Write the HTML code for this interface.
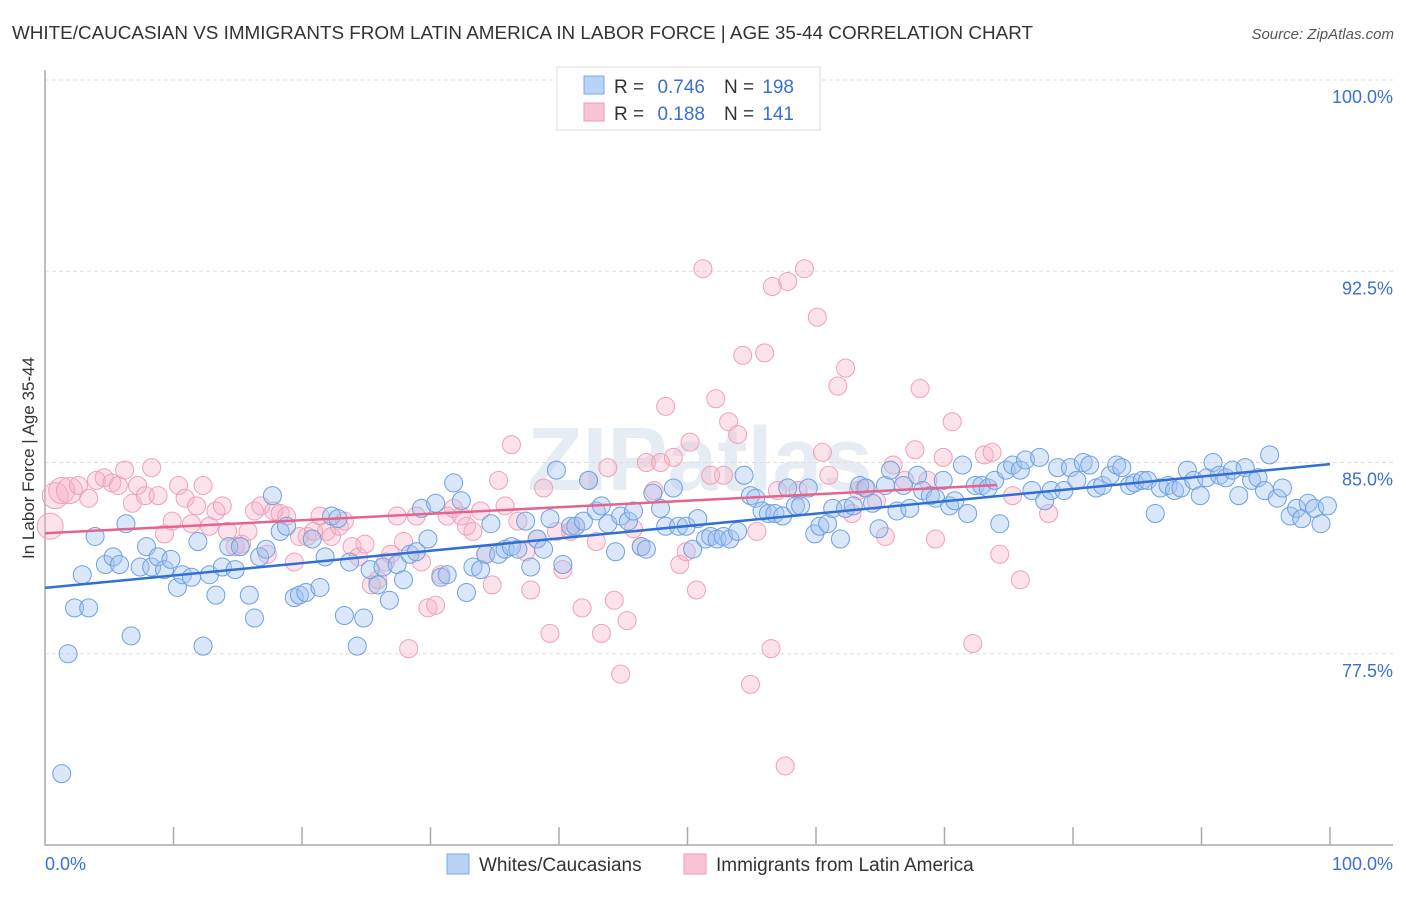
<!DOCTYPE html>
<html><head><meta charset="utf-8"><style>
body{margin:0;background:#fff;font-family:"Liberation Sans",sans-serif;}
svg text{font-family:"Liberation Sans",sans-serif;}
</style></head><body>
<svg id="chart" width="1406" height="892" viewBox="0 0 1406 892">
<text x="12" y="39" font-size="18" fill="#333" textLength="1021" lengthAdjust="spacingAndGlyphs">WHITE/CAUCASIAN VS IMMIGRANTS FROM LATIN AMERICA IN LABOR FORCE | AGE 35-44 CORRELATION CHART</text>
<text x="1394" y="39" font-size="15" fill="#555" font-style="italic" text-anchor="end">Source: ZipAtlas.com</text>
<text x="700" y="490" font-size="90" fill="#e6ecf3" text-anchor="middle" font-weight="bold" font-family="Liberation Serif">ZIPatlas</text>
<g id="grid"></g>
<g id="axes"></g>
<g id="pts"></g>
<g id="trend"></g>
<text transform="translate(34,458) rotate(-90)" font-size="17" fill="#333" text-anchor="middle">In Labor Force | Age 35-44</text>
<g>
<rect x="557" y="67" width="263" height="63" fill="#fff" stroke="#ddd"/>
<rect x="584" y="76" width="20" height="18" fill="#b8d3f5" stroke="#7aa8e6"/>
<rect x="584" y="103" width="20" height="18" fill="#f8c4d4" stroke="#f09ab5"/>
<text x="614" y="93" font-size="19" fill="#333">R =</text>
<text x="705" y="93" font-size="19" fill="#3a6fd8" text-anchor="end">0.746</text>
<text x="724" y="93" font-size="19" fill="#333">N =</text>
<text x="794" y="93" font-size="19" fill="#3a6fd8" text-anchor="end">198</text>
<text x="614" y="120" font-size="19" fill="#333">R =</text>
<text x="705" y="120" font-size="19" fill="#3a6fd8" text-anchor="end">0.188</text>
<text x="724" y="120" font-size="19" fill="#333">N =</text>
<text x="794" y="120" font-size="19" fill="#3a6fd8" text-anchor="end">141</text>
</g>
<g>
<rect x="447" y="854" width="22" height="20" fill="#b8d3f5" stroke="#7aa8e6"/>
<text x="479" y="871" font-size="19" fill="#333">Whites/Caucasians</text>
<rect x="684" y="854" width="22" height="20" fill="#f8c4d4" stroke="#f09ab5"/>
<text x="716" y="871" font-size="19" fill="#333">Immigrants from Latin America</text>
</g>
</svg>
<script>
const yTicks=[100,92.5,85,77.5];
const yTickLabels=["100.0%","92.5%","85.0%","77.5%"];
const xTickCount=10;
const blueX=[1.3,1.8,2.3,3.4,2.9,3.9,4.7,5.3,5.8,6.3,6.7,7.4,7.9,8.3,8.8,9.3,9.8,10.3,10.7,11.4,11.9,12.3,12.8,13.3,13.8,14.3,14.8,15.2,15.9,16.3,16.7,17.2,17.7,18.3,18.8,19.4,19.8,20.3,20.8,21.4,21.8,22.3,22.8,23.3,23.7,24.3,24.8,25.3,25.9,26.3,26.8,27.4,27.9,28.4,28.9,29.3,29.8,30.4,30.8,31.3,31.8,32.4,32.8,33.3,33.9,34.3,34.7,35.3,35.8,36.3,36.8,37.4,37.8,38.3,38.8,39.3,39.8,40.3,40.9,41.3,41.9,42.3,42.9,43.3,43.8,44.4,44.8,45.4,45.8,46.4,46.8,47.3,47.9,48.3,48.9,49.3,49.9,50.4,50.8,51.4,51.8,52.3,52.8,53.3,53.9,54.4,54.9,55.3,55.8,56.3,56.8,57.4,57.8,58.4,58.8,59.4,59.9,60.3,60.9,61.3,61.9,62.3,62.9,63.4,63.9,64.4,64.9,65.4,65.8,66.3,66.8,67.3,67.9,68.3,68.9,69.3,69.9,70.4,70.8,71.4,71.8,72.4,72.9,73.4,73.9,74.3,74.8,75.3,75.9,76.3,76.8,77.4,77.8,78.3,78.8,79.3,79.8,80.3,80.8,81.3,81.8,82.3,82.9,83.4,83.8,84.4,84.8,85.4,85.8,86.4,86.8,87.4,87.9,88.4,88.9,89.4,89.9,90.4,90.9,91.4,91.9,92.4,92.9,93.4,93.9,94.4,94.9,95.3,95.9,96.3,96.9,97.4,97.8,98.3,98.8,99.3,99.8];
const blueY=[72.8,77.5,79.3,79.3,80.6,82.1,81.0,81.3,81.0,82.6,78.2,80.9,81.7,80.9,81.3,80.8,81.2,80.1,80.6,80.5,81.9,77.8,80.6,79.8,80.9,81.7,80.8,81.7,79.8,78.9,81.3,81.6,83.7,82.3,82.5,79.7,79.8,79.9,82.0,80.1,81.3,82.9,82.8,79.0,81.1,77.8,78.9,80.8,80.2,80.9,79.6,81.0,80.4,81.4,81.5,83.2,82.0,83.4,80.5,80.6,84.2,83.5,79.9,80.9,80.8,81.4,82.6,81.4,81.6,81.7,81.6,82.7,80.9,82.0,81.6,82.8,84.7,81.0,82.5,82.5,82.7,84.3,83.1,83.3,82.6,81.5,82.9,82.7,83.1,81.7,81.6,83.8,83.2,82.5,84.0,82.5,82.5,81.6,82.8,82.0,82.1,82.0,82.1,82.0,82.3,84.5,83.7,83.6,83.1,83.0,83.0,82.9,84.0,83.3,83.3,84.0,82.2,82.5,82.6,83.2,82.0,83.2,83.3,84.1,84.0,83.4,82.4,84.1,84.7,83.1,84.1,83.2,84.5,83.9,83.7,83.6,84.3,83.3,83.5,84.9,83.0,84.1,84.1,84.0,84.3,82.6,84.7,84.9,84.7,85.1,83.9,85.2,83.5,83.9,84.8,83.9,84.8,84.3,85.0,84.9,84.0,84.1,84.5,84.9,84.8,84.1,84.2,84.3,84.3,83.0,84.0,84.1,83.9,84.0,84.7,84.3,83.7,84.4,85.0,84.5,84.4,84.7,83.7,84.8,84.3,84.4,83.9,85.3,83.6,84.0,82.9,83.2,82.8,83.4,83.2,82.6,83.3];
const pinkX=[0.4,0.8,1.3,1.9,2.6,3.4,4.0,4.6,5.2,5.7,6.2,6.8,7.2,7.8,8.3,8.8,9.3,9.9,10.4,10.9,11.4,11.8,12.3,12.8,13.3,13.8,14.2,14.8,15.3,15.8,16.3,16.8,17.3,17.8,18.3,18.8,19.4,19.8,20.4,20.9,21.4,21.9,22.3,22.9,23.3,23.9,24.4,24.9,25.4,25.9,26.5,26.9,27.4,27.9,28.3,28.9,29.3,29.8,30.4,30.8,31.3,31.8,32.4,32.8,33.3,33.9,34.3,34.8,35.3,35.8,36.3,36.8,37.4,37.8,38.3,38.8,39.3,39.8,40.3,40.9,41.3,41.8,42.3,42.9,43.3,43.8,44.3,44.8,45.3,45.8,46.4,46.8,47.4,47.9,48.3,48.9,49.4,49.9,50.2,50.7,51.2,51.8,52.2,52.8,53.2,53.9,54.3,54.9,55.4,56.0,56.6,56.5,57.0,57.6,57.8,58.6,59.1,60.1,60.5,61.0,61.7,62.3,62.8,63.3,63.8,64.7,65.4,66.0,66.9,67.7,68.1,68.7,69.3,69.9,70.6,72.2,73.1,73.7,74.3,75.3,75.9,78.1];
const pinkY=[82.5,83.7,83.9,83.9,84.1,83.6,84.3,84.4,84.2,84.1,84.7,83.4,84.1,83.7,84.8,83.7,82.2,82.7,84.1,83.6,82.6,83.3,84.1,82.5,83.1,83.3,82.3,81.7,81.8,82.3,83.1,83.3,81.4,83.1,83.0,82.9,81.1,82.1,82.1,82.3,82.9,82.3,82.1,82.5,82.7,81.7,81.3,81.8,80.2,80.4,81.1,81.4,82.9,81.9,77.7,82.9,81.1,79.3,79.4,80.6,82.9,83.2,82.9,82.5,82.3,83.1,81.4,80.2,84.3,83.3,85.7,82.7,81.5,80.0,82.0,84.0,78.3,82.3,80.8,82.3,82.5,79.3,84.3,81.9,78.3,84.8,79.6,76.7,78.8,82.4,81.7,85.0,83.9,85.0,87.2,85.2,81.0,81.5,85.8,80.0,92.6,84.5,87.5,84.5,86.6,86.1,89.2,76.3,82.3,89.3,91.9,77.7,83.9,73.1,92.1,83.9,92.6,90.7,85.4,84.5,88.0,88.7,83.0,83.9,84.0,83.5,82.1,84.9,84.3,85.5,87.9,84.3,82.0,85.2,86.6,77.9,85.3,85.4,81.4,83.7,80.4,83.0];
const X0=45,X1=1330,Y0=80,YB=845;
const xs=v=>X0+(X1-X0)*v/100;
const ys=v=>Y0+(100-v)*(YB-Y0)/30;
const NS="http://www.w3.org/2000/svg";
function mk(tag,attrs,parent){const e=document.createElementNS(NS,tag);for(const k in attrs)e.setAttribute(k,attrs[k]);parent.appendChild(e);return e;}
const grid=document.getElementById('grid'),axes=document.getElementById('axes'),pts=document.getElementById('pts'),trend=document.getElementById('trend');
yTicks.forEach((t,i)=>{
 const l=mk('line',{x1:X0,x2:1393,y1:ys(t),y2:ys(t),stroke:'#ddd','stroke-dasharray':'4,3'},grid);
 
 
 const tx=mk('text',{x:1393,y:ys(t)+23,'font-size':18,fill:'#3a6fd8','text-anchor':'end'},grid);
 tx.textContent=yTickLabels[i];
 
 
});
const ax=mk('path',{d:`M${X0} 70 V${YB} H1393`,stroke:'#aaa',fill:'none','stroke-width':1.5},axes);


for(let i=1;i<=xTickCount;i++){
 const t=mk('line',{x1:xs(i*10),x2:xs(i*10),y1:YB-18,y2:YB,stroke:'#aaa','stroke-width':1.5},axes);
 
 
}
const xl0=mk('text',{x:45,y:870,'font-size':18,fill:'#3a6fd8'},axes);xl0.textContent='0.0%';


const xl1=mk('text',{x:1393,y:870,'font-size':18,fill:'#3a6fd8','text-anchor':'end'},axes);xl1.textContent='100.0%';


function draw(X,Y,fill,stroke,name,bigUnder){
 X.forEach((x,i)=>{
  const r=x<bigUnder?13:9;
  const c=mk('circle',{cx:xs(x),cy:ys(Y[i]),r:r,fill:fill,stroke:stroke,'stroke-width':1},pts);
  
  
 });
}
draw(pinkX,pinkY,'rgba(246,176,198,0.35)','#f0a0b8','point-immigrants',2);
draw(blueX,blueY,'rgba(160,196,240,0.4)','#6fa0e0','point-whites',0);
function fit(X,Y){const n=X.length;let mx=0,my=0;X.forEach((x,i)=>{mx+=x;my+=Y[i];});mx/=n;my/=n;let sxy=0,sxx=0;X.forEach((x,i)=>{sxy+=(x-mx)*(Y[i]-my);sxx+=(x-mx)**2;});const b=sxy/sxx;return[my-b*mx,b];}
const [ba,bb]=fit(blueX,blueY);
const lb=mk('line',{x1:xs(0),y1:ys(ba),x2:xs(100),y2:ys(ba+bb*100),stroke:'#2f6fd6','stroke-width':2.5},trend);


const [pa,pb]=fit(pinkX,pinkY);
const pmax=Math.max(...pinkX)-4;
const lp=mk('line',{x1:xs(0),y1:ys(pa),x2:xs(pmax),y2:ys(pa+pb*pmax),stroke:'#e7638b','stroke-width':2.5},trend);


</script>
</body></html>
